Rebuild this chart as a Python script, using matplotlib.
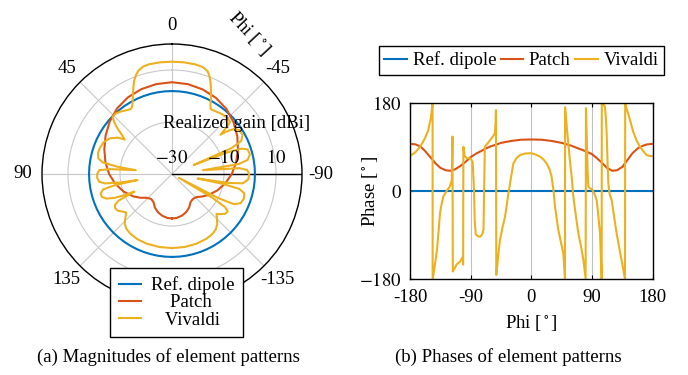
import numpy as np
import matplotlib
matplotlib.use('Agg')
import matplotlib.pyplot as plt

plt.rcParams['font.family'] = ['Liberation Serif', 'DejaVu Serif']
plt.rcParams['mathtext.fontset'] = 'stix'
plt.rcParams['font.size'] = 13.5

names = ['Ref. dipole', 'Patch', 'Vivaldi']
colors = ['#0072BD', '#D95319', '#EDB120']

# ---- magnitudes [dBi] (phi in deg, positive = left of top)
dip_phi = list(range(-180, 181, 5))
dip_gain = [1.9] * len(dip_phi)

patch_phi = [-180, -174, -167, -160, -153, -147, -140, -133, -127, -120, -110, -100, -90, -80,
             -70, -60, -50, -40, -30, -20, -10, 0, 10, 20, 30, 40, 50, 60, 70, 80, 90, 100,
             110, 120, 127, 133, 140, 147, 153, 160, 167, 174, 180]
patch_gain = [-12.9, -13.0, -13.5, -14.3, -15.5, -17.0, -17.5, -17.0, -15.6, -13.8, -11.5, -9.2, -7.0, -5.0,
              -3.0, -1.0, 0.9, 2.6, 3.8, 4.6, 5.1, 5.3, 5.1, 4.7, 4.0, 2.9, 1.3, -0.5, -2.3, -4.0, -5.8, -7.9,
              -10.2, -12.8, -14.8, -16.6, -17.5, -17.0, -15.5, -14.3, -13.5, -13.0, -12.9]

viv_phi = [-180, -170, -160, -152, -146, -142, -138, -134, -132, -130, -127, -124, -122, -120.5,
           -119, -117.5, -116, -113, -109, -105, -102.5, -101, -100, -99, -97.5, -94, -90, -87, -85,
           -83, -81.5, -79.5, -76, -72, -70, -68.5, -67.5, -66.5, -64.5, -61, -57, -54, -52, -51, -49.5,
           -48, -45, -40, -35, -31, -29, -27, -25, -23, -21, -19, -16, -12, -6,
           0, 6, 12, 15, 18, 20, 22, 24, 26, 28, 30, 32, 35, 39, 43, 46, 48, 50, 52, 54, 56,
           60, 65, 70, 74, 78, 80.5, 82.5, 84, 85.5, 87, 90, 93, 96, 98, 99.3, 100, 101, 102.5,
           105, 108, 110.5, 112.5, 114, 115, 116.5, 118.5, 121, 124, 127, 130, 133, 136, 140, 145,
           152, 160, 170, 180]
viv_gain = [-1.5, -1.5, -1.6, -1.8, -2.2, -2.8, -4.0, -6.0, -7.0, -6.0, -4.5, -4.2, -6.0, -12.0,
            -27.0, -10.0, -3.5, -1.3, -0.8, -1.2, -3.5, -10.0, -20.0, -8.0, -2.5, -0.6, -0.3, -1.0, -4.0,
            -18.0, -4.0, -0.5, 0.9, 0.6, -1.5, -8.0, -21.0, -5.0, -0.5, 1.0, 1.0, -0.5, -3.5, -6.0, -2.5,
            0.0, 0.3, 0.0, -0.6, -1.0, 0.5, 3.0, 5.5, 8.0, 10.3, 11.9, 12.8, 13.1, 13.2,
            13.2, 13.2, 13.1, 12.8, 11.8, 10.5, 8.8, 6.5, 4.3, 2.2, 0.5, -0.4, 0.0, 1.0, 1.8, 1.7, 0.0, -2.5, -5.5, -7.5, -5.0,
            -2.5, -1.0, -0.5, -0.4, -1.0, -3.0, -9.0, -16.0, -6.0, -2.0, -1.2, -1.2, -1.8, -4.0, -10.0, -16.5, -8.0, -3.0,
            -1.6, -1.6, -3.0, -6.0, -10.0, -14.0, -7.0, -5.0, -4.5, -4.8, -6.0, -7.0, -5.5, -3.8, -2.6, -2.0,
            -1.6, -1.5, -1.5, -1.5]

# ---- phases [deg]
ph_dip_phi = [-180, 180]
ph_dip = [0, 0]

ph_patch_phi = [-180, -172, -165, -158, -150, -142, -135, -127, -120, -113, -105, -97, -90, -82,
                -75, -67, -60, -45, -30, -15, 0, 15, 30, 45, 60, 67, 75, 82, 90, 97, 105, 112,
                120, 127, 135, 142, 150, 158, 165, 172, 180]
ph_patch = [97, 96, 92, 83, 70, 57, 48, 43, 42, 45, 52, 61, 70, 77,
            82, 88, 92, 99, 103, 105.5, 106, 105.5, 103, 99, 93, 89, 85, 81, 76, 68, 58, 48,
            42, 43, 50, 63, 78, 88, 93, 96, 97]

ph_viv_phi = [-180, -172, -165, -158, -153, -149, -146.5, -146.4, -143, -140, -137.5, -135.5, -133,
              -130.6, -126, -121, -118, -117, -116.5, -114, -111, -106, -102, -101.2, -100.8, -99,
              -96, -90, -87, -85, -84, -82.5, -79, -76, -73, -71, -69, -65, -61, -57, -54, -53,
              -52.5, -52, -49, -46.5, -43, -39, -34, -30, -26.7, -22, -17, -10, -2, 5, 12.8, 18,
              22.7, 27, 30, 33, 35, 40, 44, 47.4, 49.5, 49.9, 50, 52, 54.8, 57, 59.8, 62.3, 66,
              69.7, 74, 77.1, 80.5, 81, 83.5, 84.5, 87, 89.4, 93, 96.9, 99, 101.8, 103.5, 104.3,
              104.5, 107, 109.2, 110.5, 111.7, 113, 114.2, 116, 119.1, 122, 126.5, 131, 135,
              138.9, 139.2, 142, 146.3, 151, 156, 161.1, 166, 171, 176, 180]
ph_viv = [72, 80, 91, 108, 125, 150, 180, -180, -150, -120, -80, -45, -25,
          -11, 0, 9.5, 23, 112, -164, -158, -150, -144, -135, -150, 91, 72,
          68, 67, 60, 0, -60, -88, -92, -93, -88, -79, 91, 98, 105, 112, 119, 140,
          166, -171, -130, -99.5, -75, -52, -4, 30, 57, 68, 74, 77, 78, 76, 71, 65,
          57, 45, 30, 0, -31, -79, -105, -127, -170, -180, 172, 140, 98, 65, 30, -11, -50,
          -86, -115, -140, -178, 170, 40, 9.5, 6, 5, -3, -18, -45, -86, -150, -180,
          180, 178, 173, 150, 119, 60, 16, -5, -18, -45, -86, -120, -150,
          -180, 180, 166, 146, 122, 104, 91, 82, 74, 72, 72]

mag_phi = [dip_phi, patch_phi, viv_phi]
mag_val = [dip_gain, patch_gain, viv_gain]
pha_phi = [ph_dip_phi, ph_patch_phi, ph_viv_phi]
pha_val = [ph_dip, ph_patch, ph_viv]

theta_ticks = [0, 45, 90, 135, 225, 270, 315]
theta_labels = ['0', '45', '90', '135', '-135', '-90', '-45']
r_ticks = [-30, -10, 10]
r_labels = ['$-30$', '$-10$', '$10$']

W, H = 688, 375
fig = plt.figure(figsize=(W / 100, H / 100), dpi=100)

# ---------------- (a) polar magnitudes
ax = fig.add_axes([(172 - 130) / W, (H - 174 - 130) / H, 260 / W, 260 / H], projection='polar')
ax.set_theta_zero_location('N')
ax.set_theta_direction(1)
lines = []
for ph, v, c, n in zip(mag_phi, mag_val, colors, names):
    l, = ax.plot(np.deg2rad(ph), v, color=c, lw=1.5, label=n, zorder=3)
    lines.append(l)
ax.set_ylim(-30, 20)
ax.set_thetagrids(theta_ticks, [''] * len(theta_ticks))
ax.set_rgrids(r_ticks, labels=[''] * 3)
ax.grid(True, color='#c8c8c8', lw=0.8)
ax.spines['polar'].set_linewidth(1.0)
ax.axvline(np.deg2rad(270), color='black', lw=1.0, zorder=2)
# angle labels just outside the outer ring
for t, lab in zip(theta_ticks, theta_labels):
    ax.text(np.deg2rad(t), 27.3, lab, ha='center', va='center', clip_on=False)
for v, lab in zip(r_ticks, r_labels):
    ax.annotate(lab, xy=(np.deg2rad(270), v), xytext=(0, 8), textcoords='offset points',
                ha='center', va='baseline', zorder=4)
ax.text(0.75, 0.696, 'Realized gain [dBi]', transform=ax.transAxes, ha='center', va='center', zorder=4)
ax.text(0.796, 1.042, 'Phi [$^\\circ$]', transform=ax.transAxes, ha='center', va='center', rotation=-47)

# pgfplots centres the entry texts; pad with spaces to mimic that
pad_names = ['Ref. dipole', '    Patch', '   Vivaldi']
leg = fig.legend(handles=lines, labels=pad_names, loc='center', bbox_to_anchor=(176.5 / W, 1 - 302.5 / H),
                 fancybox=False, framealpha=1, edgecolor='black', handlelength=1.2,
                 handletextpad=0.5, labelspacing=0.0, borderpad=0.45, borderaxespad=0,
                 fontsize=13.5)
leg.get_frame().set_linewidth(1.0)

# ---------------- (b) phases
bx = fig.add_axes([410 / W, (H - 279.3) / H, 242.7 / W, 176 / H])
blines = []
for ph, v, c, n in zip(pha_phi, pha_val, colors, names):
    l, = bx.plot(ph, v, color=c, lw=1.5, label=n)
    blines.append(l)
bx.set_xlim(-180, 180)
bx.set_ylim(-180, 180)
bx.set_xticks([-180, -90, 0, 90, 180])
bx.set_xticklabels(['-180', '-90', '0', '90', '180'])
bx.set_yticks([-180, 0, 180])
bx.set_yticklabels(['$-180$', '$0$', '$180$'])
bx.grid(True, axis='x', color='#c0c0c0', lw=0.8)
bx.tick_params(direction='in', length=3, width=0.8, top=True, right=True)
bx.tick_params(axis='x', pad=7)
bx.tick_params(axis='y', pad=6)
for s in bx.spines.values():
    s.set_linewidth(1.0)
bx.set_xlabel('Phi [$^\\circ$]', va='center')
bx.xaxis.set_label_coords(0.5, (279.3 - 323) / 176)
bx.set_ylabel('Phase [$^\\circ$]', va='center')
bx.yaxis.set_label_coords((370 - 410) / 242.7, 0.5)

leg2 = fig.legend(handles=blines, loc='center', bbox_to_anchor=(521.5 / W, 1 - 60.5 / H), ncol=3,
                  fancybox=False, framealpha=1, edgecolor='black', handlelength=1.2,
                  handletextpad=0.3, columnspacing=0.25, borderpad=0.3, borderaxespad=0,
                  fontsize=13.5)
leg2.get_frame().set_linewidth(1.0)

fig.text(168 / W, 1 - 357 / H, '(a) Magnitudes of element patterns', ha='center', va='center')
fig.text(508 / W, 1 - 357 / H, '(b) Phases of element patterns', ha='center', va='center')

fig.savefig('out.png', dpi=100)
